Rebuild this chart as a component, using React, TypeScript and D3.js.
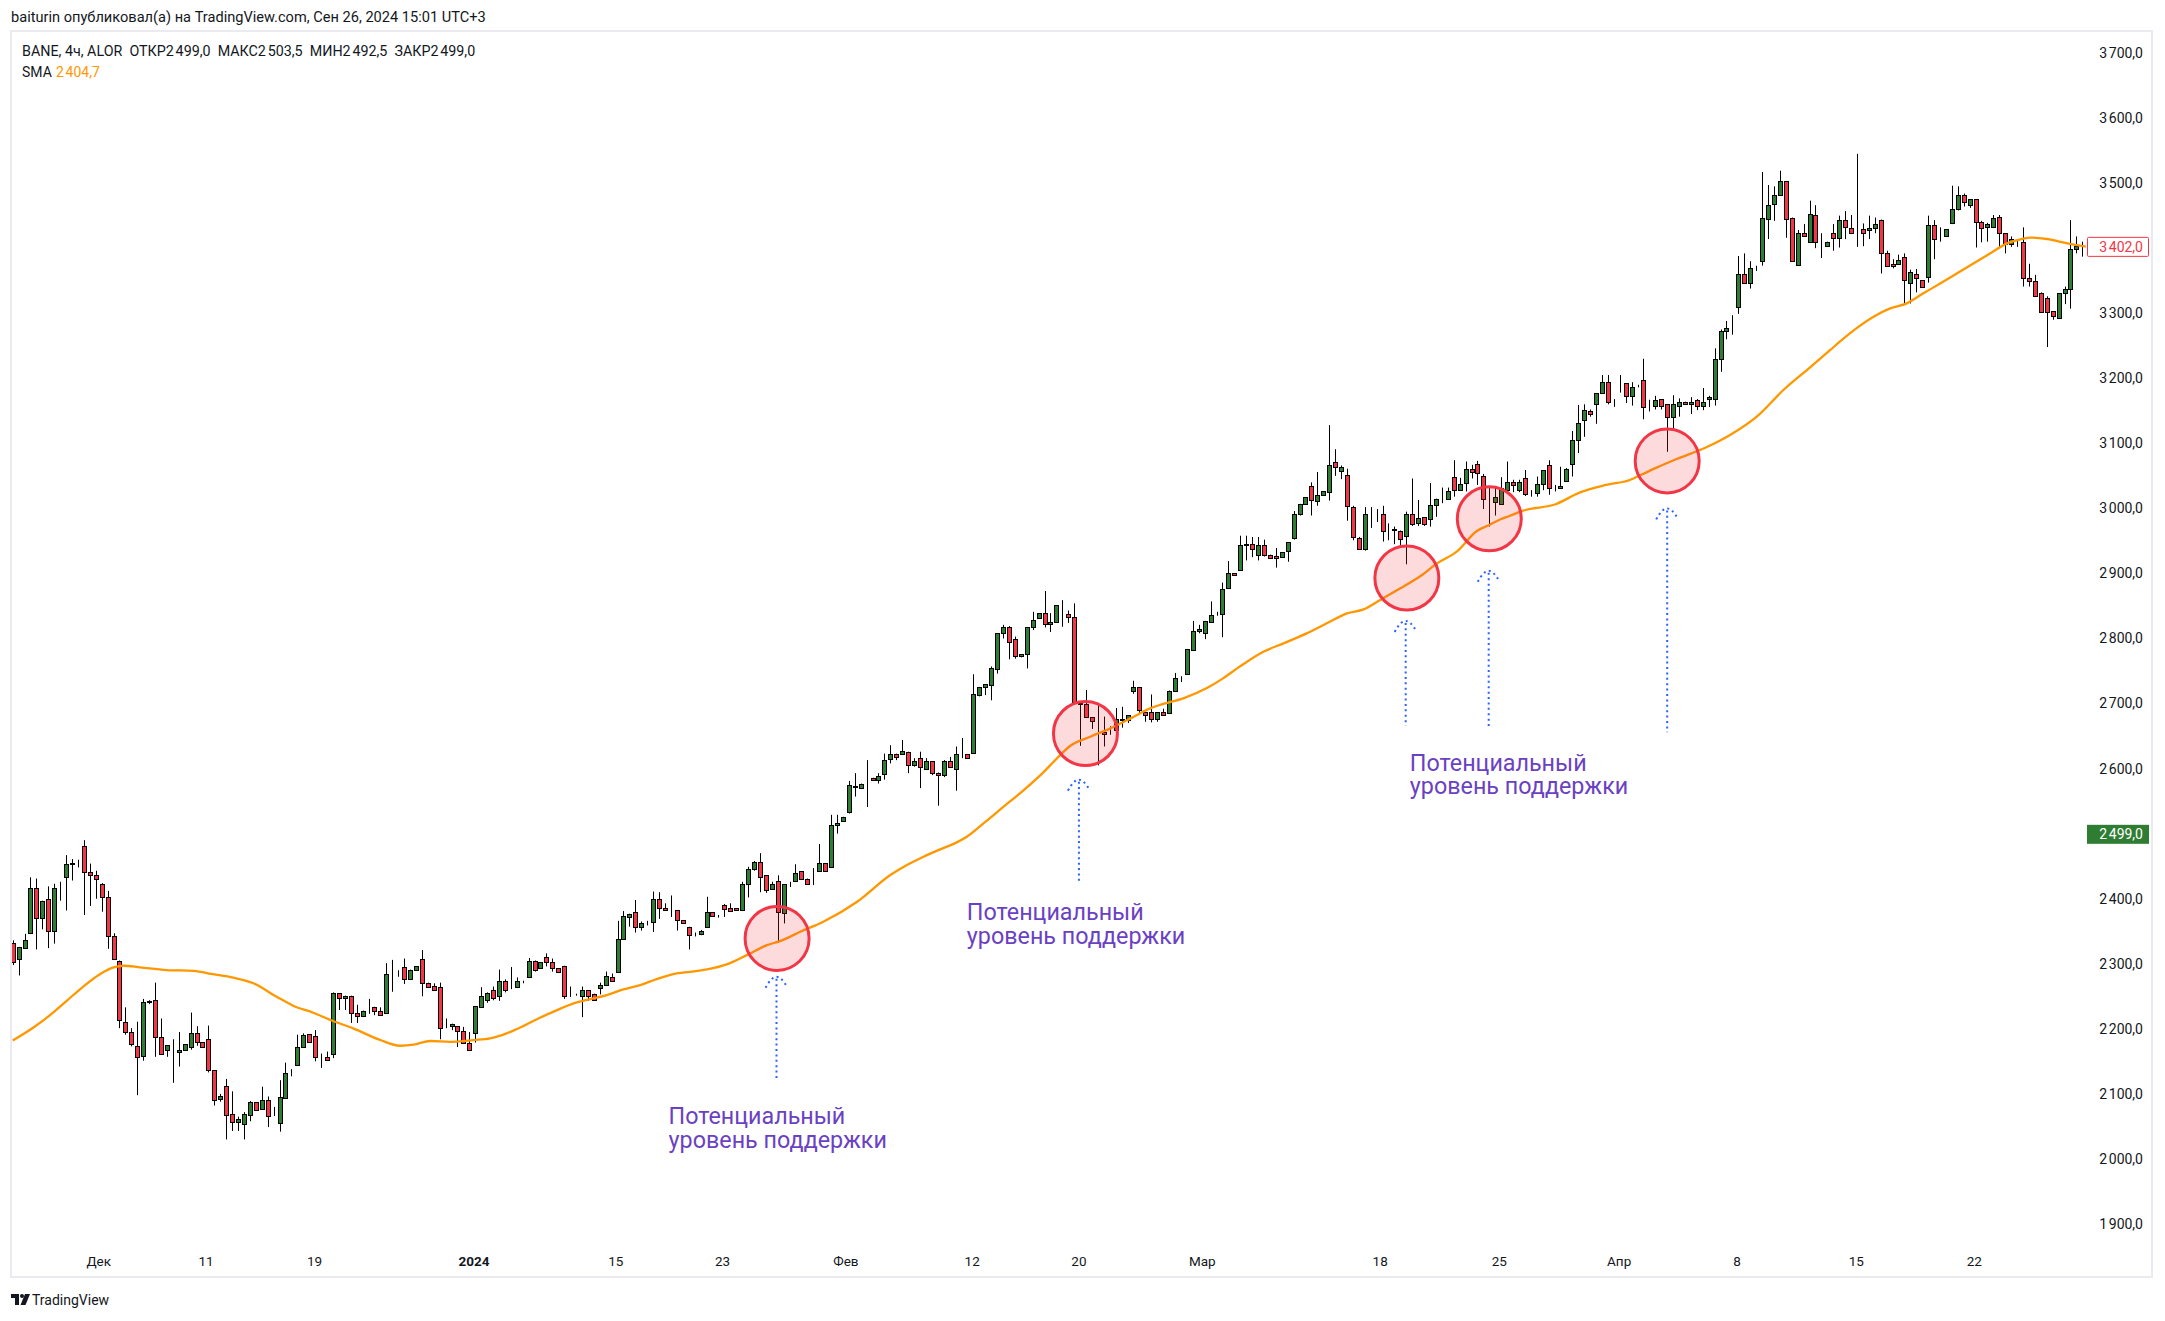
import React from "react";
import * as d3 from "d3";

// ---------- DATA (4h candles, BANE) ----------
const opens = [
  2332, 2308, 2325, 2347, 2416, 2370, 2399, 2350, 2418, 2433,
  2454, 2455, 2481, 2441, 2436, 2422, 2402, 2342, 2305, 2211,
  2195, 2173, 2158, 2242, 2245, 2187, 2167, 2166, 2164, 2168,
  2172, 2193, 2179, 2185, 2136, 2092, 2112, 2069, 2057, 2053,
  2067, 2087, 2077, 2091, 2066, 2055, 2093, 2134, 2145, 2172,
  2192, 2189, 2158, 2156, 2161, 2255, 2247, 2251, 2224, 2220,
  2230, 2234, 2227, 2225, 2285, 2285, 2295, 2276, 2291, 2307,
  2271, 2266, 2265, 2205, 2204, 2204, 2197, 2178, 2194, 2234,
  2245, 2259, 2251, 2274, 2267, 2265, 2272, 2279, 2305, 2294,
  2311, 2303, 2293, 2297, 2251, 2251, 2251, 2259, 2254, 2262,
  2267, 2280, 2288, 2338, 2372, 2380, 2357, 2362, 2364, 2400,
  2386, 2383, 2382, 2367, 2357, 2345, 2346, 2356, 2379, 2373,
  2390, 2385, 2385, 2382, 2422, 2445, 2457, 2436, 2415, 2428,
  2378, 2424, 2428, 2442, 2431, 2443, 2443, 2455, 2449, 2514,
  2519, 2533, 2574, 2570, 2587, 2586, 2582, 2591, 2615, 2623,
  2623, 2626, 2605, 2617, 2600, 2611, 2593, 2590, 2611, 2600,
  2622, 2622, 2624, 2713, 2725, 2728, 2753, 2808, 2817, 2799,
  2773, 2776, 2817, 2831, 2839, 2822, 2825, 2839, 2838, 2833,
  2701, 2700, 2679, 2657, 2656, 2658, 2659, 2677, 2675, 2719,
  2725, 2687, 2687, 2676, 2687, 2685, 2720, 2741, 2745, 2783,
  2811, 2808, 2826, 2836, 2837, 2877, 2900, 2906, 2943, 2945,
  2928, 2943, 2929, 2927, 2926, 2934, 2954, 2991, 3006, 3035,
  3012, 3020, 3025, 3071, 3058, 3052, 3002, 2954, 2937, 2992,
  2992, 2992, 2967, 2969, 2966, 2958, 2991, 2978, 2986, 2984,
  3005, 3014, 3015, 3049, 3029, 3039, 3060, 3069, 3050, 3014,
  3010, 3006, 3029, 3040, 3029, 3046, 3026, 3023, 3037, 3067,
  3031, 3031, 3042, 3068, 3105, 3136, 3149, 3160, 3177, 3195,
  3163, 3194, 3192, 3173, 3188, 3198, 3158, 3158, 3168, 3160,
  3141, 3158, 3164, 3160, 3166, 3158, 3168, 3168, 3229, 3272,
  3278, 3310, 3361, 3347, 3369, 3381, 3445, 3468, 3481, 3503,
  3446, 3374, 3423, 3410, 3451, 3411, 3404, 3424, 3415, 3444,
  3431, 3432, 3429, 3428, 3431, 3444, 3392, 3375, 3375, 3386,
  3347, 3361, 3351, 3356, 3436, 3419, 3418, 3439, 3460, 3482,
  3467, 3475, 3440, 3432, 3433, 3448, 3423, 3406, 3409, 3409,
  3354, 3349, 3331, 3323, 3303, 3293, 3331, 3338, 3398, 3402,
];
const highs = [
  2336, 2326, 2346, 2433, 2431, 2397, 2419, 2423, 2426, 2467,
  2461, 2460, 2490, 2454, 2443, 2424, 2412, 2347, 2305, 2233,
  2201, 2211, 2246, 2244, 2271, 2216, 2175, 2184, 2195, 2176,
  2225, 2204, 2179, 2205, 2136, 2100, 2123, 2104, 2065, 2072,
  2089, 2087, 2111, 2096, 2080, 2121, 2148, 2138, 2191, 2193,
  2192, 2198, 2162, 2165, 2256, 2255, 2251, 2251, 2237, 2228,
  2246, 2234, 2233, 2301, 2306, 2290, 2308, 2291, 2296, 2321,
  2271, 2270, 2271, 2216, 2208, 2204, 2203, 2195, 2235, 2264,
  2256, 2265, 2291, 2276, 2295, 2279, 2274, 2309, 2305, 2302,
  2316, 2308, 2293, 2297, 2265, 2254, 2265, 2259, 2254, 2271,
  2288, 2285, 2366, 2381, 2377, 2398, 2365, 2366, 2411, 2410,
  2393, 2405, 2382, 2367, 2357, 2348, 2352, 2403, 2379, 2375,
  2392, 2393, 2385, 2426, 2449, 2458, 2470, 2436, 2426, 2436,
  2422, 2426, 2453, 2442, 2431, 2447, 2484, 2455, 2529, 2529,
  2526, 2581, 2593, 2577, 2613, 2586, 2593, 2623, 2636, 2623,
  2644, 2626, 2616, 2626, 2616, 2611, 2594, 2613, 2618, 2634,
  2647, 2622, 2745, 2725, 2730, 2757, 2808, 2821, 2819, 2803,
  2776, 2817, 2841, 2839, 2873, 2839, 2851, 2859, 2843, 2854,
  2702, 2721, 2679, 2701, 2680, 2665, 2693, 2695, 2682, 2735,
  2725, 2687, 2714, 2687, 2692, 2720, 2747, 2742, 2784, 2827,
  2821, 2827, 2857, 2841, 2886, 2919, 2900, 2958, 2958, 2956,
  2956, 2952, 2929, 2939, 2933, 2948, 2996, 3007, 3017, 3040,
  3056, 3026, 3128, 3091, 3066, 3061, 3004, 2956, 3002, 3002,
  2999, 3004, 2977, 2972, 2966, 2995, 3046, 3013, 2986, 3039,
  3015, 3032, 3032, 3074, 3047, 3072, 3067, 3073, 3053, 3032,
  3032, 3048, 3072, 3044, 3044, 3059, 3028, 3049, 3059, 3074,
  3036, 3064, 3062, 3119, 3159, 3160, 3152, 3177, 3205, 3205,
  3168, 3205, 3192, 3194, 3190, 3230, 3167, 3173, 3168, 3160,
  3174, 3169, 3164, 3171, 3168, 3185, 3173, 3246, 3275, 3288,
  3297, 3388, 3392, 3380, 3373, 3517, 3497, 3495, 3519, 3503,
  3447, 3428, 3437, 3473, 3466, 3423, 3410, 3437, 3450, 3457,
  3451, 3545, 3438, 3450, 3447, 3444, 3396, 3383, 3390, 3392,
  3367, 3368, 3351, 3450, 3443, 3432, 3429, 3496, 3495, 3484,
  3475, 3475, 3442, 3439, 3451, 3451, 3423, 3418, 3413, 3432,
  3376, 3359, 3332, 3326, 3303, 3331, 3341, 3443, 3418, 3410,
];
const lows = [
  2298, 2282, 2325, 2347, 2322, 2353, 2324, 2331, 2397, 2382,
  2428, 2448, 2375, 2389, 2400, 2380, 2323, 2307, 2201, 2191,
  2173, 2098, 2151, 2238, 2157, 2161, 2157, 2117, 2142, 2168,
  2168, 2174, 2172, 2133, 2082, 2088, 2030, 2043, 2043, 2030,
  2058, 2075, 2077, 2049, 2066, 2042, 2093, 2127, 2145, 2172,
  2180, 2150, 2140, 2152, 2155, 2229, 2229, 2209, 2209, 2220,
  2223, 2221, 2222, 2225, 2257, 2280, 2269, 2276, 2291, 2250,
  2265, 2260, 2184, 2201, 2198, 2172, 2177, 2168, 2179, 2234,
  2240, 2244, 2243, 2256, 2261, 2265, 2270, 2279, 2288, 2294,
  2296, 2288, 2288, 2246, 2249, 2251, 2218, 2243, 2244, 2253,
  2267, 2274, 2288, 2338, 2357, 2348, 2351, 2359, 2349, 2369,
  2382, 2372, 2351, 2362, 2322, 2342, 2344, 2356, 2372, 2371,
  2372, 2381, 2382, 2382, 2402, 2443, 2410, 2409, 2415, 2332,
  2362, 2418, 2428, 2430, 2423, 2421, 2443, 2443, 2449, 2500,
  2519, 2531, 2557, 2570, 2541, 2582, 2577, 2583, 2608, 2613,
  2623, 2593, 2603, 2570, 2598, 2590, 2543, 2587, 2603, 2566,
  2616, 2617, 2624, 2711, 2713, 2705, 2746, 2800, 2768, 2769,
  2771, 2754, 2813, 2831, 2817, 2810, 2825, 2818, 2824, 2703,
  2635, 2679, 2661, 2605, 2634, 2652, 2659, 2663, 2670, 2715,
  2685, 2672, 2671, 2672, 2683, 2685, 2720, 2733, 2745, 2783,
  2808, 2799, 2826, 2835, 2802, 2877, 2897, 2906, 2920, 2925,
  2920, 2926, 2924, 2909, 2926, 2918, 2952, 2989, 3006, 2989,
  3004, 3020, 3012, 3050, 3045, 2981, 2951, 2937, 2935, 2970,
  2979, 2949, 2951, 2945, 2943, 2914, 2973, 2973, 2973, 2972,
  2987, 3008, 3015, 3018, 3027, 3026, 3046, 3036, 2999, 2972,
  2989, 3006, 3029, 3025, 3025, 3019, 3018, 3018, 3028, 3021,
  3026, 3031, 3042, 3049, 3085, 3110, 3141, 3130, 3177, 3160,
  3156, 3178, 3162, 3158, 3186, 3137, 3149, 3152, 3152, 3087,
  3123, 3141, 3161, 3145, 3151, 3151, 3156, 3158, 3210, 3260,
  3267, 3299, 3347, 3338, 3365, 3373, 3414, 3442, 3481, 3416,
  3381, 3374, 3418, 3410, 3400, 3385, 3402, 3396, 3401, 3414,
  3423, 3402, 3403, 3414, 3423, 3361, 3372, 3369, 3375, 3315,
  3315, 3332, 3340, 3347, 3383, 3410, 3418, 3437, 3458, 3464,
  3462, 3401, 3409, 3410, 3432, 3401, 3392, 3402, 3402, 3341,
  3341, 3327, 3302, 3248, 3290, 3293, 3314, 3307, 3392, 3387,
];
const closes = [
  2303, 2326, 2336, 2416, 2370, 2397, 2350, 2417, 2418, 2454,
  2455, 2455, 2441, 2436, 2431, 2402, 2342, 2307, 2213, 2195,
  2176, 2156, 2241, 2243, 2187, 2162, 2175, 2166, 2167, 2176,
  2193, 2179, 2172, 2137, 2090, 2097, 2068, 2057, 2061, 2069,
  2087, 2075, 2091, 2066, 2066, 2095, 2132, 2134, 2172, 2190,
  2180, 2157, 2158, 2152, 2255, 2247, 2251, 2225, 2220, 2228,
  2230, 2228, 2222, 2284, 2285, 2285, 2276, 2291, 2296, 2271,
  2265, 2260, 2202, 2205, 2208, 2196, 2178, 2168, 2235, 2251,
  2255, 2248, 2273, 2260, 2267, 2274, 2272, 2305, 2291, 2302,
  2302, 2293, 2288, 2251, 2251, 2251, 2259, 2251, 2244, 2268,
  2281, 2274, 2338, 2374, 2377, 2357, 2362, 2362, 2400, 2385,
  2382, 2383, 2367, 2362, 2344, 2345, 2350, 2379, 2373, 2373,
  2384, 2381, 2382, 2422, 2445, 2456, 2433, 2414, 2423, 2380,
  2422, 2424, 2439, 2430, 2423, 2443, 2455, 2443, 2514, 2517,
  2526, 2575, 2571, 2577, 2587, 2582, 2589, 2614, 2623, 2618,
  2627, 2605, 2611, 2603, 2611, 2593, 2590, 2611, 2603, 2622,
  2622, 2617, 2714, 2725, 2730, 2754, 2808, 2817, 2795, 2773,
  2776, 2817, 2829, 2839, 2822, 2825, 2851, 2839, 2833, 2703,
  2700, 2679, 2673, 2657, 2653, 2658, 2676, 2675, 2682, 2725,
  2690, 2682, 2676, 2687, 2683, 2720, 2740, 2741, 2784, 2812,
  2814, 2827, 2836, 2836, 2876, 2900, 2897, 2943, 2946, 2938,
  2943, 2929, 2924, 2923, 2933, 2948, 2992, 3007, 3017, 3013,
  3021, 3026, 3066, 3064, 3063, 3003, 2956, 2937, 2991, 2992,
  2992, 2965, 2967, 2967, 2953, 2992, 2976, 2985, 2976, 3005,
  3015, 3014, 3027, 3029, 3037, 3060, 3056, 3054, 3014, 3014,
  3017, 3031, 3041, 3036, 3040, 3022, 3026, 3037, 3059, 3031,
  3031, 3035, 3060, 3105, 3132, 3152, 3145, 3177, 3195, 3163,
  3163, 3194, 3173, 3187, 3188, 3156, 3158, 3166, 3158, 3141,
  3160, 3163, 3161, 3164, 3158, 3163, 3171, 3229, 3272, 3277,
  3278, 3361, 3347, 3369, 3369, 3446, 3467, 3482, 3503, 3445,
  3381, 3423, 3418, 3452, 3410, 3411, 3410, 3415, 3443, 3432,
  3423, 3432, 3424, 3431, 3437, 3392, 3372, 3372, 3382, 3351,
  3363, 3354, 3340, 3436, 3414, 3419, 3429, 3460, 3482, 3471,
  3475, 3440, 3431, 3437, 3447, 3424, 3406, 3414, 3409, 3354,
  3350, 3327, 3302, 3302, 3295, 3331, 3337, 3399, 3403, 3402,
];

// SMA readings: candle index -> value
const smaIndex = [
  0, 3.5, 6.3, 9.1, 11.9, 14.7, 17, 18.7, 21.5, 26, 30.5, 33.8, 37.2, 40.6, 44.5,
  47.3, 50.7, 54, 57.4, 62, 65.3, 67.6, 70.4, 73.8, 77.7, 80.5, 83.3, 86.1, 88.9,
  91.8, 94.6, 97.4, 100.2, 103, 105.8, 108.6, 111.4, 114.2, 117.1, 120.4, 123.8,
  127.2, 129.4, 132.8, 136.7, 142.4, 148, 150.8, 153.6, 156.4, 159.2, 160.9, 163.7,
  167.1, 170.5, 173.8, 176.1, 178.3, 181.7, 185.1, 188.5, 191.8, 193.4, 197.4,
  201.3, 204.1, 206.9, 210.9, 214.3, 218.2, 221.6, 225, 227.8, 230.6, 234, 237.4,
  240.2, 243.5, 246.9, 249, 250.9, 252.4, 254.7, 260.3, 264.2, 268.7, 272.7, 274.9,
  277.2, 280.6, 285.6, 289.6, 294.1, 298.6, 303.1, 306.5, 308.1, 310.9, 313.8,
  316.6, 319.4, 322.2, 325.1, 327.9, 330.7, 333.5, 336.3, 338.6, 340.3, 343.1,
  346.5, 349.6,
];
const smaValues = [
  2182, 2202, 2221, 2243, 2265, 2284, 2294.5, 2297, 2294.5, 2290.4, 2289, 2284,
  2278.6, 2270, 2249.4, 2235.6, 2224.8, 2212, 2200.8, 2182.8, 2174, 2175.6, 2181.3,
  2180, 2182.7, 2185.3, 2193, 2204.2, 2217, 2228.8, 2239, 2245.7, 2251.9, 2260.6,
  2267.2, 2276.5, 2284.1, 2287.7, 2291.3, 2299, 2313.3, 2328.7, 2334.9, 2349.2,
  2364.7, 2395.4, 2436.4, 2451.8, 2464.6, 2475.9, 2486.6, 2495.3, 2515.8, 2541.5,
  2567.1, 2594.3, 2615.8, 2634.7, 2649, 2661.9, 2677.2, 2692.6, 2697.8, 2708,
  2723.4, 2738.7, 2756.7, 2779.7, 2792.5, 2807.9, 2823.3, 2838.7, 2844.8, 2859.2,
  2877.1, 2896.1, 2915.5, 2933.5, 2965.2, 2974.5, 2983.2, 2988.3, 2996.5, 3006.8,
  3024.2, 3036, 3043.7, 3052.9, 3062.6, 3075.9, 3093.9, 3112.8, 3141, 3182, 3216.8,
  3243.5, 3256.3, 3276.8, 3294.7, 3307.5, 3315.2, 3330.6, 3346, 3361.3, 3376.7,
  3392.1, 3407.4, 3413.6, 3416.2, 3414.1, 3407.4, 3402.3,
];

const priceTicks = [1900, 2000, 2100, 2200, 2300, 2400, 2500, 2600, 2700, 2800, 2900, 3000, 3100, 3200, 3300, 3400, 3500, 3600, 3700];
const timeTickIndex = [14.5, 32.6, 50.9, 77.8, 101.7, 119.7, 140.5, 161.8, 179.8, 200.6, 230.6, 250.7, 270.9, 290.8, 310.9, 330.8];
const timeTickLabels = ["Дек", "11", "19", "2024", "15", "23", "Фев", "12", "20", "Мар", "18", "25", "Апр", "8", "15", "22"];

// annotations (candle index, price)
const circleIndex = [128.9, 180.9, 235.1, 249, 279];
const circlePrice = [2339, 2654, 2893, 2984, 3073];
const arrowIndex = [128.8, 179.8, 234.9, 248.9, 279];
const arrowTop = [2280, 2583, 2827, 2904, 3000];
const arrowBottom = [2119, 2423, 2666, 2661, 2656];
const noteIndex = [110.6, 160.9, 235.6];
const notePrice = [2052, 2366, 2596];
const noteLines = ["Потенциальный", "уровень поддержки"];

const lastPrice = 3402.0;
const markPrice = 2499.0;
const titleText = "baiturin опубликовал(а) на TradingView.com, Сен 26, 2024 15:01 UTC+3";
const headerText = "BANE, 4ч, ALOR  ОТКР2\u202F499,0  МАКС2\u202F503,5  МИН2\u202F492,5  ЗАКР2\u202F499,0";
const smaLabel = "SMA";
const smaLast = "2\u202F404,7";

// ---------- STYLE ----------
const W = 2165;
const H = 1321;
const UP = "#2e7d32";
const DOWN = "#f23645";
const FONT = "Roboto, 'Liberation Sans', Arial, sans-serif";
const NOTE_FS = 23.3;
const NOTE_LH = 23.5;

const locale = d3.formatLocale({ decimal: ",", thousands: "\u202F", grouping: [3], currency: ["", ""] });
const fmt = locale.format(",.1f");

export default function App() {
  const x = d3.scaleLinear().domain([0, opens.length - 1]).range([12.7, 2082.3]);
  const y = d3.scaleLinear().domain([1900, 3700]).range([1224, 53]);

  const smaPts: [number, number][] = smaIndex.map((d, i) => [d, smaValues[i]]);
  const smaPath = d3
    .line<[number, number]>()
    .x((d) => x(d[0]))
    .y((d) => y(d[1]))
    .curve(d3.curveMonotoneX)(smaPts) as string;

  const candles = opens.map((o, i) => {
    const c = closes[i];
    const xc = Math.round(x(i));
    const yTop = Math.round(y(Math.max(o, c)));
    const yBot = Math.round(y(Math.min(o, c)));
    return (
      <g key={i}>
        <line x1={xc + 0.5} x2={xc + 0.5} y1={y(highs[i])} y2={y(lows[i])} stroke="#000" strokeWidth={1} />
        <rect
          x={xc - 1.5}
          y={yTop + 0.5}
          width={4}
          height={Math.max(0, yBot - yTop)}
          fill={c >= o ? UP : DOWN}
          stroke="#000"
          strokeWidth={1}
        />
      </g>
    );
  });

  const dotted = { stroke: "#2962ff", strokeWidth: 2, strokeDasharray: "2 3.4", fill: "none" };
  // baseline of first line sits ~19.7px under the top of the block (Roboto metrics)
  const noteTopOffset = 19.7;

  return (
    <svg
      width={W}
      height={H}
      viewBox={`0 0 ${W} ${H}`}
      style={{ position: "fixed", left: 0, top: 0, background: "#fff" }}
      fontFamily={FONT}
    >
      <defs>
        <clipPath id="plot">
          <rect x={12} y={31} width={2078} height={1216} />
        </clipPath>
      </defs>
      <rect x={0} y={0} width={W} height={H} fill="#fff" />
      <text x={11} y={22} fontSize={14.6} fill="#131722">{titleText}</text>
      <rect x={11} y={31} width={2141} height={1246} fill="#fff" stroke="#e9ebf1" strokeWidth={2} />

      <text x={22} y={56} fontSize={14.3} fill="#131722" style={{ whiteSpace: "pre" }}>{headerText}</text>
      <text x={22} y={77} fontSize={14} fill="#131722">{smaLabel}</text>
      <text x={56} y={77} fontSize={14} fill="#ff9800">{smaLast}</text>

      <g clipPath="url(#plot)">
        {candles}
        <path d={smaPath} fill="none" stroke="#ff9800" strokeWidth={2.3} strokeLinejoin="round" />
        {circleIndex.map((ci, k) => (
          <circle key={k} cx={x(ci)} cy={y(circlePrice[k])} r={32} fill="rgba(242,54,69,0.18)" stroke="#f23645" strokeWidth={3} />
        ))}
        {arrowIndex.map((ai, k) => {
          const ax = x(ai);
          const t = y(arrowTop[k]);
          const b = y(arrowBottom[k]);
          return (
            <g key={k}>
              <line x1={ax} x2={ax} y1={t + 2} y2={b} {...dotted} />
              <path d={`M${ax - 11},${t + 11} Q${ax - 5},${t} ${ax},${t} Q${ax + 5},${t} ${ax + 11},${t + 11}`} {...dotted} />
            </g>
          );
        })}
      </g>

      {noteIndex.map((ni, k) => (
        <foreignObject key={k} x={x(ni)} y={y(notePrice[k]) - noteTopOffset} width={260} height={NOTE_LH * 2 + 6}>
          <div
            style={{
              fontFamily: FONT,
              fontSize: `${NOTE_FS}px`,
              lineHeight: `${NOTE_LH}px`,
              color: "#6a41c3",
              whiteSpace: "nowrap",
              margin: 0,
              padding: 0,
            }}
          >
            {noteLines[0]}
            <br />
            {noteLines[1]}
          </div>
        </foreignObject>
      ))}

      {/* price axis */}
      {priceTicks.map((p) => (
        <text key={p} x={2143} y={y(p)} dy="0.35em" fontSize={14} fill="#131722" textAnchor="end">
          {fmt(p)}
        </text>
      ))}
      <rect x={2087.5} y={y(lastPrice) - 9.5} width={61} height={19} fill="#fff" stroke="#f23645" strokeWidth={1} rx={1} />
      <text x={2143} y={y(lastPrice)} dy="0.35em" fontSize={14} fill="#f23645" textAnchor="end">{fmt(lastPrice)}</text>
      <rect x={2087} y={y(markPrice) - 9.5} width={62} height={19} fill="#2e7d32" />
      <text x={2143} y={y(markPrice)} dy="0.35em" fontSize={14} fill="#fff" textAnchor="end">{fmt(markPrice)}</text>

      {/* time axis */}
      {timeTickIndex.map((ti, k) => (
        <text
          key={k}
          x={x(ti)}
          y={1261}
          dy="0.35em"
          fontSize={13.5}
          fill="#131722"
          textAnchor="middle"
          fontWeight={timeTickLabels[k] === "2024" ? 700 : 400}
        >
          {timeTickLabels[k]}
        </text>
      ))}

      {/* TradingView logo */}
      <g transform="translate(11,1294)" fill="#131722">
        <path d="M0,0 H8 V11 H4 V4 H0 Z" />
        <circle cx={11} cy={2} r={2} />
        <path d="M14,0 H19 L14.5,11 H9.5 Z" />
      </g>
      <text x={32} y={1305} fontSize={14} fill="#131722">TradingView</text>
    </svg>
  );
}
